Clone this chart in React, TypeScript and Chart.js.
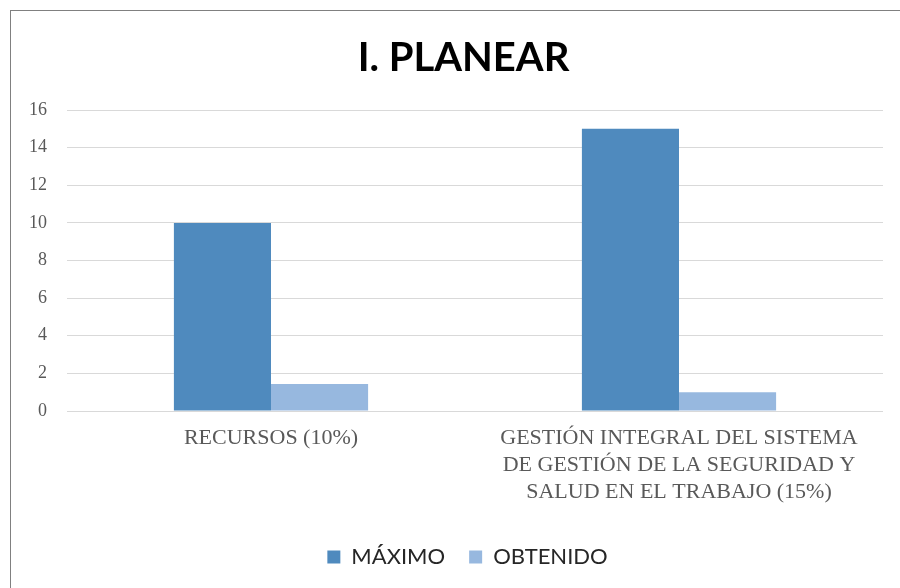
import React, { useEffect, useRef } from "react";
import { Chart, registerables } from "chart.js";

Chart.register(...registerables);

const TITLE = "I. PLANEAR";
const CATEGORIES: string[][] = [
  ["RECURSOS (10%)"],
  ["GESTIÓN INTEGRAL DEL SISTEMA", "DE GESTIÓN DE LA SEGURIDAD Y", "SALUD EN EL TRABAJO (15%)"],
];
const SERIES_NAMES = ["MÁXIMO", "OBTENIDO"];
const MAXIMO = [10, 15];
const OBTENIDO = [1.43, 1];
const Y_MIN = 0;
const Y_MAX = 16;
const Y_STEP = 2;

const COLORS = ["#4F8ABE", "#97B8DF"];

const shiftBlocks = {
  id: "shiftBlocks",
  afterLayout(c: any) {
    const t = c.titleBlock;
    if (t) {
      t.left += 10;
      t.right += 10;
    }
    const l = c.legend;
    if (l) {
      l.left += 14;
      l.right += 14;
      if (l.legendHitBoxes) {
        l.legendHitBoxes.forEach((h: any) => {
          h.left += 14;
        });
      }
    }
  },
};

export default function App() {
  const ref = useRef<HTMLCanvasElement | null>(null);

  useEffect(() => {
    if (!ref.current) return;
    const chart = new Chart(ref.current, {
      type: "bar",
      data: {
        labels: CATEGORIES,
        datasets: [
          {
            label: SERIES_NAMES[0],
            data: MAXIMO,
            backgroundColor: COLORS[0],
            categoryPercentage: 0.476,
            barPercentage: 1,
          },
          {
            label: SERIES_NAMES[1],
            data: OBTENIDO,
            backgroundColor: COLORS[1],
            categoryPercentage: 0.476,
            barPercentage: 1,
          },
        ],
      },
      plugins: [shiftBlocks],
      options: {
        animation: false,
        responsive: false,
        maintainAspectRatio: false,
        layout: { padding: { left: 24, right: 17, top: 24, bottom: 10 } },
        plugins: {
          tooltip: { enabled: false },
          title: {
            display: true,
            text: TITLE,
            color: "#000000",
            font: { family: "Lato", size: 40, weight: "bold", lineHeight: 1.2 },
            padding: { top: 10, bottom: 28 },
          },
          legend: {
            position: "bottom",
            labels: {
              color: "#262626",
              font: { family: "Lato", size: 22 },
              boxWidth: 13,
              boxHeight: 13,
              padding: 24,
            },
          },
        },
        scales: {
          x: {
            grid: { display: false, drawTicks: false },
            border: { display: false },
            ticks: {
              color: "#595959",
              font: { family: "Liberation Serif", size: 22, lineHeight: 1.23 },
              padding: 14,
              maxRotation: 0,
              autoSkip: false,
            },
            afterFit: (s: any) => {
              s.height = 111;
            },
          },
          y: {
            min: Y_MIN,
            max: Y_MAX,
            grid: { color: "#D9D9D9", lineWidth: 1, drawTicks: false },
            border: { display: false },
            ticks: {
              stepSize: Y_STEP,
              color: "#595959",
              font: { family: "Liberation Serif", size: 18 },
              padding: 20,
            },
            afterFit: (s: any) => {
              s.width = 43;
            },
          },
        },
      },
    });
    return () => chart.destroy();
  }, []);

  return (
    <div style={{ position: "fixed", left: 0, top: 0, width: 900, height: 588, overflow: "hidden", background: "#fff" }}>
      <canvas ref={ref} width={900} height={588} style={{ position: "absolute", left: 0, top: 0, width: 900, height: 588, display: "block" }} />
      <div
        style={{
          position: "absolute",
          left: 10,
          top: 10,
          width: 900,
          height: 600,
          borderTop: "1px solid #808080",
          borderLeft: "1px solid #808080",
          pointerEvents: "none",
        }}
      />
    </div>
  );
}
